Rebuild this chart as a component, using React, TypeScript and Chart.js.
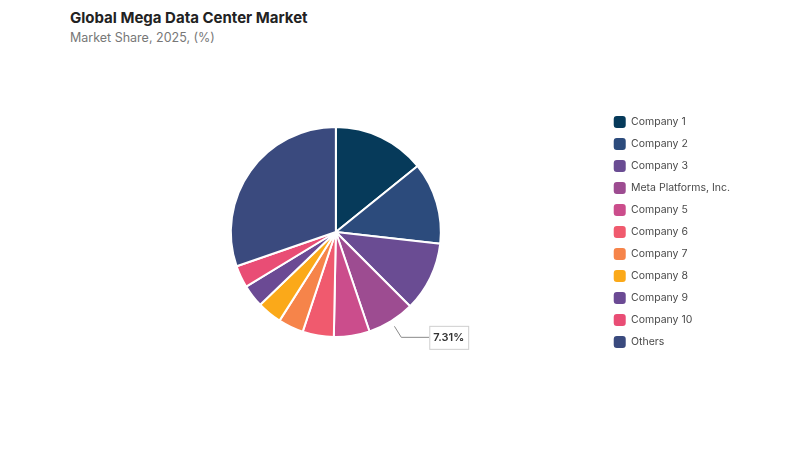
import React, { useEffect, useRef } from "react";
import { Chart, registerables } from "chart.js";

Chart.register(...registerables);

const TITLE = "Global Mega Data Center Market";
const SUBTITLE = "Market Share, 2025, (%)";

const categories = [
  "Company 1",
  "Company 2",
  "Company 3",
  "Meta Platforms, Inc.",
  "Company 5",
  "Company 6",
  "Company 7",
  "Company 8",
  "Company 9",
  "Company 10",
  "Others",
];

const shares = [14.2, 12.6, 10.7, 7.31, 5.5, 4.8, 3.9, 3.8, 3.5, 3.4, 30.29];

const colors = [
  "#063a5a",
  "#2c4b7c",
  "#6a4c93",
  "#9d4c91",
  "#cb4d8c",
  "#f05a6e",
  "#f6844a",
  "#fba919",
  "#6b4a94",
  "#e94d75",
  "#3a4a7e",
];

const labelledIndex = 3;

const FONT = "Inter, 'Noto Sans', sans-serif";

const calloutPlugin = {
  id: "callout",
  afterDatasetsDraw(chart: any) {
    const meta = chart.getDatasetMeta(0);
    const arc = meta.data[labelledIndex];
    if (!arc) return;
    const { x, y, startAngle, endAngle, outerRadius } = arc.getProps(
      ["x", "y", "startAngle", "endAngle", "outerRadius"],
      true
    );
    const mid = (startAngle + endAngle) / 2;
    const cos = Math.cos(mid);
    const sin = Math.sin(mid);
    const x1 = x + (outerRadius + 6) * cos;
    const y1 = y + (outerRadius + 6) * sin;
    const x2 = x + (outerRadius + 19) * cos;
    const y2 = y + (outerRadius + 19) * sin;
    const x3 = x2 + 28;
    const ctx = chart.ctx;
    ctx.save();
    ctx.strokeStyle = "#8a8a8a";
    ctx.lineWidth = 1;
    ctx.beginPath();
    ctx.moveTo(x1, y1);
    ctx.lineTo(x2, y2);
    ctx.lineTo(x3, y2);
    ctx.stroke();
    const text = shares[labelledIndex].toFixed(2) + "%";
    ctx.font = `600 11px ${FONT}`;
    const tw = ctx.measureText(text).width;
    const bw = tw + 8;
    const bh = 23;
    ctx.fillStyle = "#ffffff";
    ctx.fillRect(x3, y2 - bh / 2, bw, bh);
    ctx.strokeStyle = "#cfcfcf";
    ctx.strokeRect(x3 + 0.5, y2 - bh / 2 + 0.5, bw, bh);
    ctx.fillStyle = "#333333";
    ctx.textBaseline = "middle";
    ctx.textAlign = "left";
    ctx.fillText(text, x3 + 4, y2 + 0.5);
    ctx.restore();
  },
};

export default function App() {
  const canvasRef = useRef<HTMLCanvasElement | null>(null);

  useEffect(() => {
    if (!canvasRef.current) return;
    const chart = new Chart(canvasRef.current, {
      type: "pie",
      data: {
        labels: categories,
        datasets: [
          {
            data: shares,
            backgroundColor: colors,
            borderColor: "#ffffff",
            borderWidth: 2,
            radius: 105,
          } as any,
        ],
      },
      options: {
        responsive: false,
        animation: false,
        devicePixelRatio: 1,
        layout: { padding: { top: 100, bottom: 86, left: 68, right: 60 } },
        plugins: {
          title: { display: false },
          tooltip: { enabled: false },
          legend: {
            display: true,
            position: "right",
            align: "center",
            labels: {
              boxWidth: 12,
              boxHeight: 12,
              padding: 10,
              useBorderRadius: true,
              borderRadius: 3,
              color: "#4a4a4a",
              font: { family: FONT, size: 10.5 },
              generateLabels: (c: any) => {
                const base = (Chart as any).overrides.pie.plugins.legend.labels.generateLabels(c);
                return base.map((l: any) => ({ ...l, lineWidth: 0 }));
              },
            },
          },
        },
      },
      plugins: [calloutPlugin],
    });
    return () => chart.destroy();
  }, []);

  return (
    <div
      style={{
        position: "fixed",
        left: 0,
        top: 0,
        width: 800,
        height: 450,
        background: "#ffffff",
        fontFamily: FONT,
      }}
    >
      <div
        style={{
          position: "absolute",
          left: 70,
          top: 8,
          fontSize: 15,
          fontWeight: 700,
          color: "#222222",
          whiteSpace: "nowrap",
        }}
      >
        {TITLE}
      </div>
      <div
        style={{
          position: "absolute",
          left: 70,
          top: 30,
          fontSize: 12.5,
          color: "#777777",
          whiteSpace: "nowrap",
        }}
      >
        {SUBTITLE}
      </div>
      <canvas
        ref={canvasRef}
        width={800}
        height={450}
        style={{ position: "absolute", left: 0, top: 0, width: 800, height: 450 }}
      />
    </div>
  );
}
